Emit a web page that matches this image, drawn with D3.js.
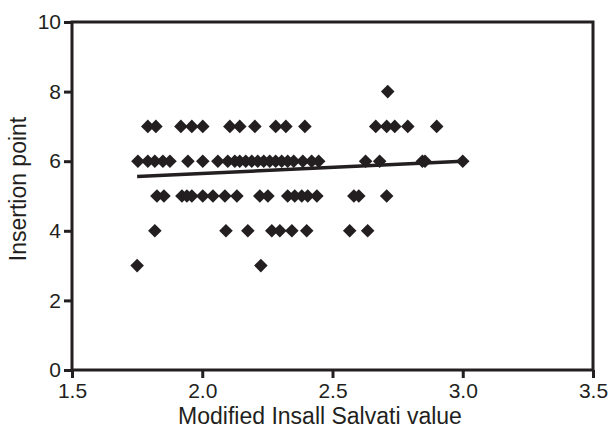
<!DOCTYPE html>
<html>
<head>
<meta charset="utf-8">
<script src="https://cdn.jsdelivr.net/npm/d3@7"></script>
<style>
  body { margin: 0; background: #fff; }
  text { font-family: "Liberation Sans", Arial, sans-serif; fill: #231f20; }
</style>
</head>
<body>
<script>
const w = 610;
const h = 432;
const padding = { top: 22, right: 17, bottom: 62, left: 72 };

// x values grouped by insertion point
const row3 = [1.75, 2.225];
const row4 = [1.818, 2.091, 2.175, 2.267, 2.298, 2.344, 2.401, 2.566, 2.635];
const row5 = [1.826, 1.853, 1.922, 1.941, 1.96, 2.002, 2.041, 2.087, 2.133, 2.221, 2.252,
  2.328, 2.355, 2.382, 2.405, 2.44, 2.582, 2.601, 2.708];
const row6 = [1.753, 1.791, 1.818, 1.849, 1.876, 1.945, 2.002, 2.06, 2.098, 2.125, 2.144,
  2.167, 2.19, 2.213, 2.236, 2.259, 2.282, 2.305, 2.328, 2.351, 2.386, 2.42, 2.447,
  2.627, 2.681, 2.845, 2.855, 3.0];
const row7 = [1.791, 1.822, 1.918, 1.96, 2.002, 2.106, 2.144, 2.202, 2.282, 2.321, 2.394,
  2.666, 2.708, 2.739, 2.789, 2.9];
const row8 = [2.712];

const xTicks = [1.5, 2.0, 2.5, 3.0, 3.5];
const yTicks = [0, 2, 4, 6, 8, 10];
// fitted line
const fitX = [1.75, 3.0];
const fitY = [5.56, 6.0];

const points = [];
[[3, row3], [4, row4], [5, row5], [6, row6], [7, row7], [8, row8]].forEach(([y, xs]) => {
  xs.forEach(x => points.push([x, y]));
});

const xScale = d3.scaleLinear().domain([1.5, 3.5]).range([padding.left, w - padding.right]);
const yScale = d3.scaleLinear().domain([0, 10]).range([h - padding.bottom, padding.top]);

const svg = d3.select('body')
  .append('svg')
  .attr('width', w)
  .attr('height', h);

const ink = '#231f20';

svg.append('g')
  .attr('transform', `translate(0,${h - padding.bottom})`)
  .call(d3.axisBottom(xScale).tickValues(xTicks).tickFormat(d3.format('.1f')).tickSize(8).tickPadding(5))
  .call(g => g.select('.domain').remove())
  .call(g => g.selectAll('line').attr('stroke', ink).attr('stroke-width', 3))
  .call(g => g.selectAll('text').attr('font-size', 21).style('font-family', '"Liberation Sans", Arial, sans-serif').attr('fill', ink));

svg.append('g')
  .attr('transform', `translate(${padding.left},0)`)
  .call(d3.axisLeft(yScale).tickValues(yTicks).tickSize(8).tickPadding(3))
  .call(g => g.select('.domain').remove())
  .call(g => g.selectAll('line').attr('stroke', ink).attr('stroke-width', 3))
  .call(g => g.selectAll('text').attr('font-size', 21).style('font-family', '"Liberation Sans", Arial, sans-serif').attr('fill', ink));

// frame
svg.append('rect')
  .attr('x', xScale(1.5))
  .attr('y', yScale(10))
  .attr('width', xScale(3.5) - xScale(1.5))
  .attr('height', yScale(0) - yScale(10))
  .attr('fill', 'none')
  .attr('stroke', ink)
  .attr('stroke-width', 3);

const diamond = d3.symbol().type(d3.symbolSquare).size(92);

svg.selectAll('path.pt')
  .data(points)
  .enter()
  .append('path')
  .attr('class', 'pt')
  .attr('d', diamond)
  .attr('transform', d => `translate(${xScale(d[0])},${yScale(d[1])}) rotate(45)`)
  .attr('fill', ink);

svg.append('line')
  .attr('x1', xScale(fitX[0]))
  .attr('y1', yScale(fitY[0]))
  .attr('x2', xScale(fitX[1]))
  .attr('y2', yScale(fitY[1]))
  .attr('stroke', ink)
  .attr('stroke-width', 3.5);

svg.append('text')
  .attr('x', 320)
  .attr('y', h - 8)
  .style('text-anchor', 'middle')
  .attr('font-size', 23)
  .text('Modified Insall Salvati value');

svg.append('text')
  .attr('transform', 'rotate(-90)')
  .attr('x', -189)
  .attr('y', 26)
  .style('text-anchor', 'middle')
  .attr('font-size', 23)
  .text('Insertion point');
</script>
</body>
</html>
